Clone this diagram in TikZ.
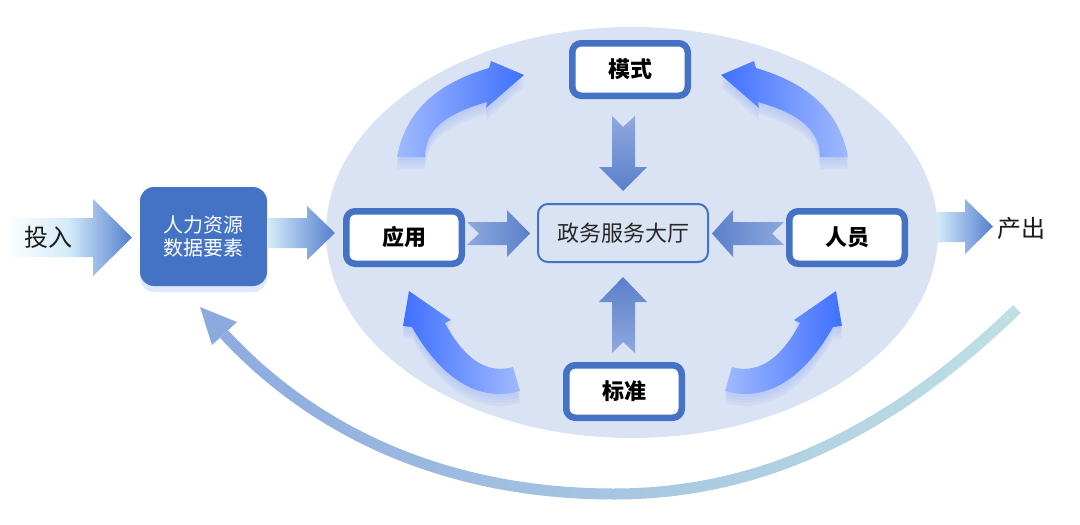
\documentclass[tikz,border=0pt]{standalone}
\usepackage{fontspec}
\setmainfont{Noto Sans CJK SC}
\usetikzlibrary{shapes.geometric}
\definecolor{bl}{HTML}{4472C4}
\definecolor{ell}{HTML}{DAE3F3}
\definecolor{cal}{HTML}{A0BAFF}
\definecolor{cad}{HTML}{3F70FF}
\definecolor{ial}{HTML}{8FA9DD}
\definecolor{iad}{HTML}{5A7FCB}
\definecolor{oal}{HTML}{D3EBF8}
\definecolor{oad}{HTML}{557ECE}
\definecolor{fbl}{HTML}{8DAADF}
\definecolor{fbr}{HTML}{BFE1E3}
\definecolor{glow}{HTML}{A9BFF7}

\newcommand{\pathTL}{(524,75) -- (491,61) -- (489,68) .. controls (441,82) and (406,108) .. (397,157) -- (425,157) .. controls (425,124.5) and (456,111) .. (487,102) -- (486,108) -- cycle}
\newcommand{\pathTR}{(721,75) -- (754,61) -- (756,68) .. controls (804,82) and (839,108) .. (848,157) -- (820,157) .. controls (820,124.5) and (789,111) .. (758,102) -- (759,108) -- cycle}
\newcommand{\pathBL}{(409,291) -- (451,320) -- (445,323) .. controls (460,351) and (482,376) .. (513,367) -- (520,391) .. controls (473,404.5) and (436,370) .. (412,327) -- (403,326) -- cycle}
\newcommand{\pathBR}{(836,291) -- (794,320) -- (800,323) .. controls (785,351) and (763,376) .. (732,367) -- (725,391) .. controls (772,404.5) and (809,370) .. (833,327) -- (842,326) -- cycle}

\begin{document}
\begin{tikzpicture}[x=1pt,y=-1pt,
  kbox/.style={draw=bl, line width=6.5pt, fill=white, rounded corners=9pt,
    minimum width=115.5pt, minimum height=52.5pt, inner sep=0pt,
    font=\bfseries\fontsize{22}{26}\selectfont, text=black},
  hubbox/.style={draw=bl, line width=2pt, rounded corners=10pt,
    minimum width=170pt, minimum height=58pt, inner sep=0pt,
    font=\fontsize{22}{26}\selectfont, text=black!85},
  databox/.style={fill=bl, rounded corners=14pt, minimum width=127pt,
    minimum height=99pt, inner sep=0pt, align=center, text=white,
    font=\fontsize{20}{23}\selectfont},
  lbl/.style={font=\fontsize{24}{28}\selectfont, text=black!90, inner sep=0pt},
  glowfill/.style={fill=glow, opacity=0.2}
]
\fill[white] (0,0) rectangle (1080,525);
\useasboundingbox (0,0) rectangle (1080,525);

% central oval
\node[ellipse, fill=ell, minimum width=612pt, minimum height=411pt, inner sep=0pt] (oval) at (632,232.5) {};

% feedback arrow
\coordinate (fbs) at (1017,309);
\coordinate (fbb) at (614,494);
\coordinate (fbe) at (224,334);
\foreach \i in {0,...,56} {
  \pgfmathsetmacro\xa{195+15*\i}
  \pgfmathtruncatemacro\pc{max(0,min(100,(\xa+7.5-200)/8.2))}
  \begin{scope}
    \clip (\xa,280) rectangle (\xa+15.6,515);
    \draw[line width=11pt, color=fbr!\pc!fbl] (fbs) .. controls (902,420) and (774,494) .. (fbb) .. controls (464,494) and (326,444) .. (fbe);
  \end{scope}
}
\fill[fbl] (200,307) -- (237,322) -- (212,345) -- cycle;

% curved arrows with glow
\foreach \s in {3,6,9,12} {
  \begin{scope}[shift={(0,\s)}]
    \fill[glowfill] \pathTL; \fill[glowfill] \pathTR;
    \fill[glowfill] \pathBL; \fill[glowfill] \pathBR;
  \end{scope}
}
\shade[left color=cal, right color=cad] \pathTL;
\shade[left color=cad, right color=cal] \pathTR;
\shade[left color=cad, right color=cal] \pathBL;
\shade[left color=cal, right color=cad] \pathBR;

% nodes
\node[kbox] (ms) at (630,69.5) {模式};
\node[kbox] (yy) at (404,237.5) {应用};
\node[kbox] (ry) at (847,237.5) {人员};
\node[kbox] (bz) at (624,391.5) {标准};
\node[hubbox] (hub) at (623,233) {政务服务大厅};
\fill[glow, opacity=0.35, rounded corners=14pt] (140,192) rectangle (267,292);
\node[databox] (data) at (203.5,236.5) {人力资源\\数据要素};

% inner block arrows
\shade[left color=ial, right color=iad] (467,222) -- (507,222) -- (507,210) -- (530,233.5) -- (507,257) -- (507,245) -- (467,245) -- (479,233.5) -- cycle;
\shade[left color=iad, right color=ial] (784,222) -- (733,222) -- (733,210) -- (712,233.5) -- (733,257) -- (733,245) -- (784,245) -- (772,233.5) -- cycle;
\shade[top color=ial, bottom color=iad] (612,116) -- (623,127) -- (635,116) -- (635,167) -- (647,167) -- (623,191) -- (599,167) -- (612,167) -- cycle;
\shade[top color=iad, bottom color=ial] (623,277) -- (647,302) -- (635,302) -- (635,353) -- (623,342) -- (612,353) -- (612,302) -- (599,302) -- cycle;

% outer block arrows
\shade[left color=white, right color=oad, middle color=oal] (5,218) -- (93,218) -- (93,199) -- (132,237.5) -- (93,276) -- (93,257) -- (5,257) -- cycle;
\node[lbl] (in) at (48,237) {投入};
\node[lbl] (out) at (1021,228.5) {产出};
\shade[left color=oal, right color=oad] (268,218) -- (307,218) -- (307,206) -- (335,233) -- (307,260) -- (307,248) -- (268,248) -- cycle;
\shade[left color=oal, right color=oad] (937,212) -- (965,212) -- (965,199) -- (993,226.5) -- (965,254) -- (965,242) -- (937,242) -- cycle;
\end{tikzpicture}
\end{document}
